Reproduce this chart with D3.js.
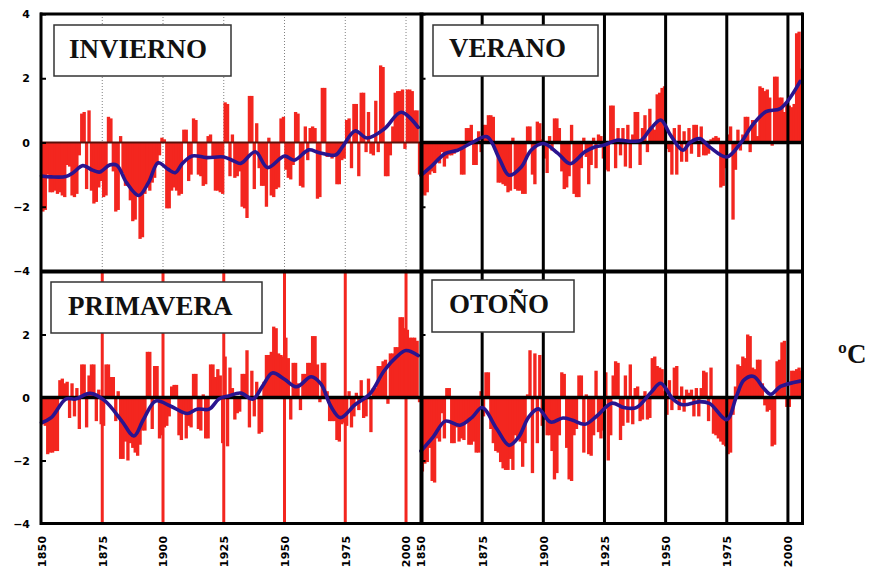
<!DOCTYPE html>
<html><head><meta charset="utf-8">
<script src="https://cdn.jsdelivr.net/npm/d3@7/dist/d3.min.js"></script>
<style>
html,body{margin:0;padding:0;background:#fff;}
svg{display:block;}
.tick text{font-family:"DejaVu Sans",sans-serif;font-weight:bold;font-size:11px;fill:#000;}
</style></head><body>
<svg id="chart" width="869" height="567"></svg>
<script>
// ---------- DATA ----------
const firstYear = 1850, lastYear = 2005;
const years = d3.range(firstYear, lastYear + 1);
const yTicksTop = [4, 2, 0, -2, -4];
const yTicksBottom = [2, 0, -2, -4];
const xTicks = [1850, 1875, 1900, 1925, 1950, 1975, 2000];
const unitLabel = "ºC";
const titles = ["INVIERNO", "VERANO", "PRIMAVERA", "OTOÑO"];

const invierno = [
 -2.15,-2.1,-1.0,-1.55,-1.55,-1.5,-1.6,-1.55,-1.65,-1.7,
 -0.7,-0.75,-1.65,-1.7,-1.6,-0.4,0.9,0.95,-1.45,1.0,
 -1.5,-1.9,-1.85,-1.4,-1.2,-1.7,-1.65,0.8,0.75,-0.9,
 -2.15,-2.1,0.2,-0.95,-1.35,-1.3,-1.8,-2.45,-2.4,-1.6,
 -3.0,-2.95,-1.6,-1.4,-1.5,-1.25,-1.1,-0.7,-0.4,0.15,
 0.1,-2.05,-2.05,-1.5,-1.4,-1.5,-1.65,-1.6,0.4,0.4,
 -1.2,-1.0,0.75,0.7,-1.0,-1.05,-1.35,-1.3,0.2,0.25,
 -0.5,-1.5,-1.5,-1.55,-1.6,1.25,1.2,-1.05,0.25,-1.1,
 -1.05,-0.9,-2.0,-2.05,-2.35,1.45,1.45,-1.45,0.6,-0.8,
 -1.35,-1.35,-2.0,0.15,-1.65,-1.7,-1.45,-1.4,0.75,0.8,
 -0.85,-1.1,-1.15,-0.7,0.95,0.9,-1.35,-1.4,0.5,-0.55,
 0.45,0.5,0.45,-1.75,-1.7,1.7,1.7,-0.45,-0.4,-0.5,
 -0.4,-1.3,-1.3,-0.55,-0.5,0.7,0.75,-0.8,1.2,1.2,
 -1.05,1.55,1.55,-0.3,0.95,-0.35,-0.4,1.3,-0.3,2.4,
 2.35,-1.05,-1.05,-0.4,0.5,1.55,1.6,1.6,1.65,-0.2,
 1.65,1.65,1.6,1.0,1.0,-1.0];
const inviernoSmoothYears = [1850,1854,1860,1863,1867,1871,1874,1878,1881,1885,1890,1894,1898,1902,1905,1908,1912,1918,1925,1929,1932,1938,1943,1950,1954,1960,1964,1971,1974,1979,1984,1991,1998,2005];
const inviernoSmooth =      [-1.04,-1.07,-1.06,-0.94,-0.72,-0.86,-0.92,-0.70,-0.71,-1.25,-1.65,-1.25,-0.63,-0.83,-0.94,-0.65,-0.42,-0.47,-0.45,-0.57,-0.65,-0.29,-0.78,-0.42,-0.55,-0.23,-0.31,-0.39,-0.12,0.36,0.14,0.42,0.94,0.47];

const verano = [
 -1.6,-1.65,-1.55,-1.0,-0.9,-0.95,-0.6,-0.65,-0.3,-0.75,
 -0.5,-0.4,-0.4,-0.35,-0.2,-0.25,-1.0,-1.0,0.45,0.45,
 0.55,-0.7,-0.7,0.35,-0.3,0.55,0.55,0.85,0.85,0.8,
 -0.2,-1.25,-1.25,-1.3,-1.35,-1.55,-1.5,0.15,-1.45,-1.5,
 -1.5,-1.6,-1.6,0.5,0.5,-1.0,-1.3,0.65,0.6,0.1,
 -0.5,-0.95,0.2,-0.25,0.75,0.75,0.45,-0.9,-1.45,-1.4,
 -1.05,0.55,-1.6,-1.7,-1.7,-0.8,0.15,-0.45,-1.3,-0.7,
 0.15,-0.8,0.25,0.2,-0.5,-0.85,-0.9,1.15,1.15,-0.8,
 0.45,-0.4,0.45,-0.75,0.55,-0.8,0.25,0.95,0.95,-0.7,
 0.45,0.85,-0.3,1.05,0.45,0.4,1.5,1.55,1.7,1.75,
 -0.2,-0.3,-1.0,0.45,-1.0,0.55,-0.6,0.35,-0.6,0.45,
 -0.35,0.55,0.55,-0.45,0.5,-0.4,-0.4,-0.35,0.1,0.15,
 0.2,0.15,-1.4,-1.35,-0.8,0.25,0.5,-2.4,-0.85,0.4,
 -0.25,0.25,0.8,0.8,-0.3,0.7,0.6,0.2,1.75,1.7,
 1.6,1.65,1.4,-0.1,2.05,2.05,1.4,1.4,0.95,1.2,
 1.15,1.1,1.2,3.4,3.45,2.3];
const veranoSmoothYears = [1850,1854,1860,1865,1871,1877,1882,1886,1891,1895,1900,1906,1911,1917,1921,1925,1930,1936,1940,1944,1948,1952,1957,1960,1964,1968,1975,1981,1985,1991,1997,2005];
const veranoSmooth =      [-1.02,-0.76,-0.34,-0.24,0.0,0.18,-0.5,-1.02,-0.76,-0.24,-0.03,-0.34,-0.66,-0.29,-0.14,-0.08,0.07,0.04,0.07,0.44,0.7,0.23,-0.24,0.0,0.12,-0.14,-0.45,0.02,0.49,0.96,1.06,1.9];

const primavera = [
 -0.85,-0.9,-1.8,-1.75,-1.75,-1.7,-1.7,0.55,0.6,0.45,
 0.5,-0.65,0.45,-0.6,0.3,-1.0,1.05,1.05,-0.95,0.7,
 1.05,1.05,-0.75,0.25,-0.85,-0.9,1.05,1.05,0.65,0.65,
 -0.75,0.2,-1.95,-1.95,-1.4,-2.0,-1.45,-1.6,-1.75,-1.85,
 -1.5,-1.05,-1.05,1.45,1.45,-1.0,1.0,1.0,-1.3,-1.2,
 -0.95,-0.9,-0.6,0.35,0.4,0.4,-1.2,-1.35,-0.5,-1.3,
 -0.9,-0.95,0.75,0.75,-1.0,-1.05,0.1,-1.3,-1.3,1.05,
 1.05,0.65,0.9,0.7,-1.45,1.3,-1.55,0.95,0.3,-0.7,
 -0.5,-0.45,0.75,0.75,1.5,-0.95,0.85,-0.6,0.5,-1.15,
 -1.1,0.5,1.35,1.35,1.45,2.25,2.2,1.4,1.35,1.3,
 1.9,1.25,-0.7,1.1,1.1,0.45,-0.4,0.75,0.75,1.1,
 1.1,1.95,1.95,1.05,-0.15,1.1,1.1,0.2,-0.75,-0.75,
 -0.75,-1.35,-1.4,-0.85,-0.8,-0.9,0.2,-0.95,-0.6,0.15,
 -0.4,0.55,-0.65,-0.6,0.6,-1.1,0.3,0.3,1.0,1.0,
 1.15,1.2,-0.2,1.4,1.4,1.6,1.6,2.55,2.55,2.2,
 2.15,1.9,1.9,1.9,1.8,-0.15];
const primaveraSmoothYears = [1850,1854,1860,1864,1870,1876,1883,1888,1892,1897,1903,1910,1914,1919,1923,1927,1932,1937,1941,1945,1950,1955,1961,1965,1969,1973,1979,1985,1991,1996,2000,2005];
const primaveraSmooth =      [-0.8,-0.64,-0.05,-0.05,0.13,-0.1,-0.74,-1.22,-0.69,-0.11,-0.27,-0.51,-0.37,-0.37,-0.05,0.05,0.14,-0.05,0.37,0.78,0.58,0.34,0.66,0.43,-0.27,-0.64,-0.23,0.1,0.85,1.28,1.49,1.33];

const otono = [
 -2.35,-2.1,-2.05,-1.6,-2.65,-2.7,-1.3,-1.4,-0.5,-1.3,
 0.3,0.3,-1.45,-1.45,-0.95,-1.4,-1.3,-1.35,-0.8,-1.5,
 -1.5,-1.4,-1.75,-1.75,0.2,-0.6,0.8,0.8,-1.0,-1.45,
 -1.7,-1.75,-2.05,-2.25,-2.3,-2.3,-1.95,-2.3,-1.2,-1.3,
 -1.4,-2.2,-1.45,0.1,1.5,-2.4,1.4,-1.45,1.35,-0.9,
 -0.7,-1.2,-1.2,-1.7,-2.6,-2.4,-1.2,0.8,0.75,-1.6,
 -2.6,-2.65,-1.2,-1.0,0.7,0.7,-1.75,0.1,-1.8,-1.85,
 -1.2,0.85,-1.1,-1.3,-1.05,0.8,-2.0,-1.2,0.7,1.15,
 1.1,-1.35,-0.9,0.7,-0.8,1.05,-0.85,0.3,0.35,-0.75,
 -0.7,0.2,-0.7,-0.65,1.25,1.3,1.0,0.95,0.9,0.2,
 -0.55,0.55,-0.4,0.95,1.0,-0.4,0.35,-0.45,0.25,0.15,
 0.25,-0.6,0.3,-0.6,0.3,0.85,0.8,-0.75,0.95,-1.15,
 -1.2,-1.3,-1.4,-1.5,-1.55,-1.8,-1.75,-0.55,0.35,1.05,
 1.0,1.3,1.25,2.0,1.95,0.95,0.9,1.2,1.2,0.45,
 -0.25,-0.45,-0.4,-1.55,-1.5,1.15,1.2,1.75,1.8,-0.3,
 -0.3,0.85,0.85,0.9,0.95,0.85];
const otonoSmoothYears = [1850,1855,1860,1866,1871,1875,1881,1886,1890,1894,1898,1903,1908,1912,1917,1922,1928,1933,1938,1944,1948,1953,1957,1964,1968,1975,1979,1982,1986,1990,1993,1997,2005];
const otonoSmooth =      [-1.7,-1.25,-0.75,-0.88,-0.62,-0.32,-1.0,-1.52,-1.25,-0.62,-0.36,-0.78,-0.65,-0.72,-0.85,-0.58,-0.18,-0.32,-0.32,0.16,0.45,-0.05,-0.23,-0.13,-0.19,-0.7,0.05,0.55,0.67,0.3,0.1,0.35,0.52];

// ---------- LAYOUT ----------
const RED = "#f3261f", BLUE = "#2a148f";
const svg = d3.select("#chart");
const xLeft = [41.5, 420.6], xRight = [421, 802.6];
const yTop = [271, 14], yBot = [523.5, 271.5];

const panels = [
  {vals: invierno, sy: inviernoSmoothYears, sv: inviernoSmooth, xr: xLeft, yr: yTop, grid: "dotted", zeroColor: "#5a100a", zeroW: 2,
   box: [54, 25, 177, 51], tx: 69, ty: 58, ticks: yTicksTop, labels: true},
  {vals: verano, sy: veranoSmoothYears, sv: veranoSmooth, xr: xRight, yr: yTop, grid: "black", zeroColor: "#000", zeroW: 3.5,
   box: [433, 25, 165, 51], tx: 449, ty: 57, ticks: yTicksTop, labels: false},
  {vals: primavera, sy: primaveraSmoothYears, sv: primaveraSmooth, xr: xLeft, yr: yBot, grid: "red", zeroColor: "#000", zeroW: 3.5,
   box: [51, 282, 211, 51], tx: 68, ty: 315, ticks: yTicksBottom, labels: true},
  {vals: otono, sy: otonoSmoothYears, sv: otonoSmooth, xr: xRight, yr: yBot, grid: "black", zeroColor: "#000", zeroW: 3.5,
   box: [432, 280, 142, 52], tx: 449, ty: 313, ticks: yTicksBottom, labels: false}
];

panels.forEach((p, idx) => {
  const x = d3.scaleLinear().domain([firstYear, lastYear + 1]).range(p.xr);
  const y = d3.scaleLinear().domain([-4, 4]).range(p.yr);
  const g = svg.append("g");
  const gridYears = xTicks.slice(1);

  if (p.grid === "dotted") {
    g.selectAll("line.grid").data(gridYears).join("line")
      .attr("x1", d => x(d)).attr("x2", d => x(d))
      .attr("y1", p.yr[1]).attr("y2", p.yr[0])
      .attr("stroke", "#808080").attr("stroke-width", 1).attr("stroke-dasharray", "1,2");
  }

  // bars
  g.selectAll("rect.bar").data(years.map((yr, i) => ({yr, v: p.vals[i]}))).join("rect")
    .attr("x", d => x(d.yr) - 0.3)
    .attr("width", d => x(d.yr + 1) - x(d.yr) + 0.9)
    .attr("y", d => Math.min(y(d.v), y(0)))
    .attr("height", d => Math.abs(y(d.v) - y(0)))
    .attr("fill", RED);

  if (p.grid === "red") {
    g.selectAll("line.grid").data(gridYears).join("line")
      .attr("x1", d => x(d)).attr("x2", d => x(d))
      .attr("y1", p.yr[1]).attr("y2", p.yr[0])
      .attr("stroke", RED).attr("stroke-width", 3);
  }

  // zero line
  g.append("line").attr("x1", p.xr[0]).attr("x2", p.xr[1])
    .attr("y1", y(0)).attr("y2", y(0))
    .attr("stroke", p.zeroColor).attr("stroke-width", p.zeroW);

  if (p.grid === "black") {
    g.selectAll("line.grid").data(gridYears).join("line")
      .attr("x1", d => x(d)).attr("x2", d => x(d))
      .attr("y1", p.yr[1]).attr("y2", p.yr[0])
      .attr("stroke", "#000").attr("stroke-width", 3);
  }

  // smooth line
  const line = d3.line().x((d, i) => x(p.sy[i])).y(d => y(d)).curve(d3.curveCatmullRom.alpha(0.5));
  g.append("path").datum(p.sv).attr("d", line)
    .attr("fill", "none").attr("stroke", BLUE).attr("stroke-width", 3.6)
    .attr("stroke-linejoin", "round").attr("stroke-linecap", "round");

  // y axis
  const ax = d3.axisLeft(y).tickValues(p.ticks).tickSizeInner(-5).tickSizeOuter(0).tickPadding(11);
  if (!p.labels) ax.tickFormat("");
  const ag = svg.append("g").attr("transform", `translate(${p.xr[0] - 0.5},0)`).call(ax);
  ag.select(".domain").remove();
  ag.selectAll(".tick line").attr("stroke", "#000").attr("stroke-width", 2);

  // title box
  const [bx, by, bw, bh] = p.box;
  svg.append("rect").attr("x", bx).attr("y", by).attr("width", bw).attr("height", bh)
    .attr("fill", "#fff").attr("stroke", "#333").attr("stroke-width", 1.5);
  svg.append("text").attr("x", p.tx).attr("y", p.ty).text(titles[idx])
    .attr("font-family", "'Liberation Serif','Times New Roman',serif").attr("font-weight", "bold")
    .attr("font-size", 27).attr("fill", "#111");

  // x axis (bottom panels only)
  if (p.yr === yBot) {
    const xa = d3.axisBottom(x).tickValues(xTicks).tickSize(0).tickFormat(d3.format("d"));
    const xg = svg.append("g").attr("transform", `translate(0,${p.yr[0]})`).call(xa);
    xg.select(".domain").remove();
    xg.selectAll(".tick text").attr("transform", "rotate(-90)")
      .attr("text-anchor", "end").attr("x", -12).attr("y", 0).attr("dy", "0.36em")
      .style("letter-spacing", "0.3px");
  }
});

// frame
const frame = svg.append("g").attr("stroke", "#000").attr("fill", "none");
[[40, 14, 803, 14, 3], [40, 271.5, 803, 271.5, 4], [40, 523.5, 803, 523.5, 3],
 [41, 12.5, 41, 525, 3], [421.5, 12.5, 421.5, 525, 4], [802.5, 12.5, 802.5, 525, 3]]
  .forEach(([x1, y1, x2, y2, w]) => frame.append("line").attr("x1", x1).attr("y1", y1).attr("x2", x2).attr("y2", y2).attr("stroke-width", w));

svg.append("text").attr("x", 838).attr("y", 363).text(unitLabel)
  .attr("font-family", "'Liberation Serif','Times New Roman',serif").attr("font-weight", "bold")
  .attr("font-size", 27).attr("fill", "#111");
</script>
</body></html>
